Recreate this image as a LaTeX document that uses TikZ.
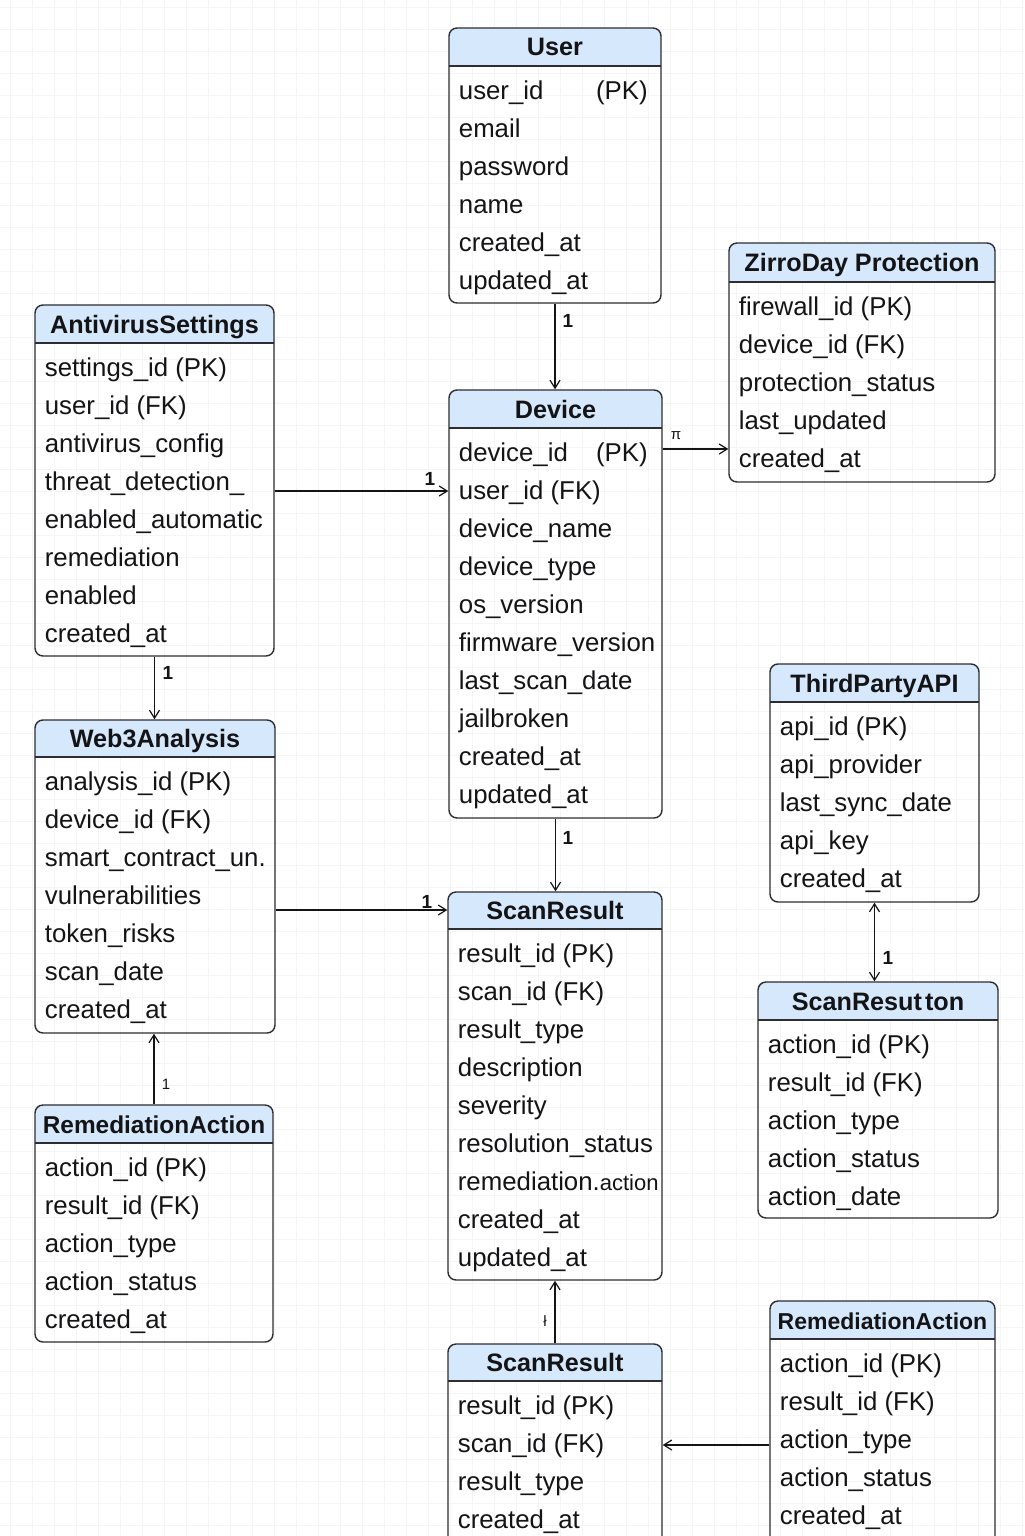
\documentclass[tikz,border=0pt]{standalone}
\usepackage{fontspec}
\setmainfont{Liberation Sans}
\usetikzlibrary{arrows.meta,fit}

\definecolor{hdr}{RGB}{214,232,251}
\definecolor{edge}{RGB}{45,45,50}
\definecolor{ink}{RGB}{20,20,22}

\tikzset{
  erframe/.style={draw=edge, line width=0.7pt, rounded corners=4pt, inner sep=0pt},
  hdrline/.style={draw=edge, line width=0.6pt},
  ertitle/.style={font=\fontsize{12.6}{14}\selectfont\bfseries, text=ink, inner sep=0pt, anchor=base},
  errow/.style={font=\fontsize{12.9}{15}\selectfont, text=ink, inner sep=0pt, anchor=base west},
  pkrow/.style={font=\fontsize{12.9}{15}\selectfont, text=ink, inner sep=0pt, anchor=base east},
  conn/.style={draw=ink, line width=0.6pt},
  tip/.style={-{Straight Barb[length=4pt,width=5pt,line width=0.6pt]}},
  card/.style={font=\fontsize{9.5}{10}\selectfont\bfseries, text=ink, inner sep=0pt},
  smallcard/.style={font=\fontsize{7.5}{8}\selectfont, text=ink, inner sep=0pt},
  gridline/.style={draw=black!4, line width=0.4pt},
}

% id, x1, y1, x2, y2, header-bottom, title, rows
\newcommand\ertable[8]{%
  \begin{scope}
    \clip[rounded corners=4pt] (#2,#3) rectangle (#4,#5);
    \fill[hdr] (#2,#3) rectangle (#4,#6);
  \end{scope}
  \draw[hdrline] (#2,#6) -- (#4,#6);
  \node[erframe, fit={(#2,#3) (#4,#5)}] (#1) {};
  \node[ertitle] (#1-title) at ({(#2+#4)/2}, {(#3+#6)/2+9}) {#7};
  \foreach \r [count=\i] in {#8} {
    \node[errow] (#1-row\i) at ({#2+9.5}, {#6+33.5+(\i-1)*38}) {\r};
  }
}

\begin{document}
\begin{tikzpicture}[x=0.5pt, y=-0.5pt]
\useasboundingbox (0,0) rectangle (1024,1536);
\clip (0,0) rectangle (1024,1536);
\fill[white] (0,0) rectangle (1024,1536);
\foreach \x in {10,32,...,1024} \draw[gridline] (\x,0) -- (\x,1536);
\foreach \y in {7,29,...,1536} \draw[gridline] (0,\y) -- (1024,\y);

% User
\ertable{user}{449}{28}{661}{303}{66}{User}{user\_id,email,password,name,created\_at,updated\_at}
\node[pkrow] (user-pk) at (648,99.5) {(PK)};

% ZirroDay Protection
\ertable{zirro}{729}{243}{995}{482}{282}{ZirroDay Protection}{firewall\_id (PK),device\_id (FK),protection\_status,last\_updated,created\_at}

% AntivirusSettings
\ertable{antiv}{35}{305}{274}{656}{343}{AntivirusSettings}{settings\_id (PK),user\_id (FK),antivirus\_config,threat\_detection\_,enabled\_automatic,remediation,enabled,created\_at}

% Device
\ertable{device}{449}{390}{662}{818}{428}{Device}{device\_id,user\_id (FK),device\_name,device\_type,os\_version,firmware\_version,last\_scan\_date,jailbroken,created\_at,updated\_at}
\node[pkrow] (device-pk) at (648,461.5) {(PK)};

% ThirdPartyAPI
\ertable{third}{770}{664}{979}{902}{702}{ThirdPartyAPI}{api\_id (PK),api\_provider,last\_sync\_date,api\_key,created\_at}

% Web3Analysis
\ertable{web3}{35}{720}{275}{1033}{757}{Web3Analysis}{analysis\_id (PK),device\_id (FK),smart\_contract\_un.,vulnerabilities,token\_risks,scan\_date,created\_at}

% ScanResult (centre)
\ertable{scan}{448}{892}{662}{1280}{929}{ScanResult}{result\_id (PK),scan\_id (FK),result\_type,description,severity,resolution\_status,{remediation.{\fontsize{11}{12}\selectfont action}},created\_at,updated\_at}

% ScanResutton
\ertable{srt}{758}{982}{998}{1218}{1020}{ScanResut\hspace{1.5pt}ton}{action\_id (PK),result\_id (FK),action\_type,action\_status,action\_date}

% RemediationAction (left)
\ertable{reml}{35}{1105}{273}{1342}{1143}{{\fontsize{12.2}{14}\selectfont RemediationAction}}{action\_id (PK),result\_id (FK),action\_type,action\_status,created\_at}

% ScanResult (bottom)
\ertable{scanb}{448}{1344}{662}{1560}{1381}{ScanResult}{result\_id (PK),scan\_id (FK),result\_type,created\_at}

% RemediationAction (right)
\ertable{remr}{770}{1301}{995}{1560}{1339}{{\fontsize{11.5}{13}\selectfont RemediationAction}}{action\_id (PK),result\_id (FK),action\_type,action\_status,created\_at}

% helper heights
\coordinate (hDZ) at (0,449);
\coordinate (hAD) at (0,491);
\coordinate (hWS) at (0,910);
\coordinate (hRS) at (0,1445);

% connectors
\draw[conn,tip] (user.south) -- (user.south |- device.north);
\draw[conn,tip] (device.east |- hDZ) -- (zirro.west |- hDZ);
\draw[conn,tip] (antiv.east |- hAD) -- (device.west |- hAD);
\draw[conn,tip] (antiv.south) -- (antiv.south |- web3.north);
\draw[conn,tip] (web3.east |- hWS) -- (scan.west |- hWS);
\draw[conn,tip] (reml.north) -- (reml.north |- web3.south);
\draw[conn,tip] (device.south) -- (device.south |- scan.north);
\draw[conn,{Straight Barb[length=4pt,width=5pt,line width=0.6pt]}-{Straight Barb[length=4pt,width=5pt,line width=0.6pt]}] (third.south) -- (third.south |- srt.north);
\draw[conn,tip] (scanb.north) -- (scanb.north |- scan.south);
\draw[conn,tip] (remr.west |- hRS) -- (scanb.east |- hRS);

% cardinality labels
\node[card] (c1) at (568,321) {1};
\node[smallcard] (c2) at (676,436) {π};
\node[card] (c3) at (430,479) {1};
\node[card] (c4) at (168,673) {1};
\node[card] (c5) at (427,902) {1};
\node[smallcard] (c6) at (166,1084) {1};
\node[card] (c7) at (568,838) {1};
\node[card] (c8) at (888,958) {1};
\node[smallcard] (c9) at (545,1321) {ł};
\end{tikzpicture}
\end{document}
